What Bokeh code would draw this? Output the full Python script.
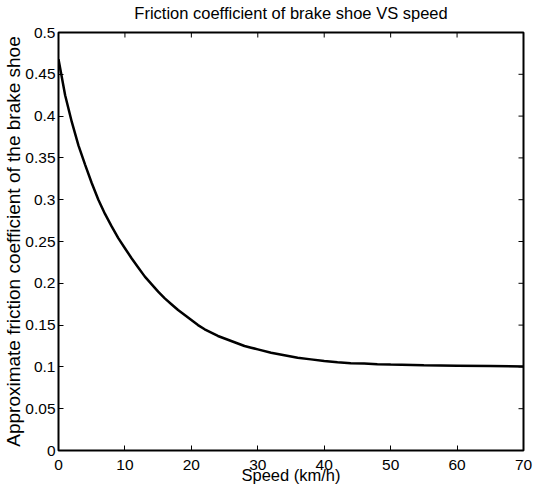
from bokeh.plotting import figure
from bokeh.models import Range1d, LinearAxis, FixedTicker, CustomJSTickFormatter
from bokeh.embed import file_html
from bokeh.resources import INLINE
import math

# Data
speed = [0, 1, 2, 3, 4, 5, 6, 7, 8, 9, 10, 11, 12, 13, 14, 15, 16, 17, 18, 19, 20,
         21, 22, 23, 24, 25, 26, 27, 28, 29, 30, 32, 34, 36, 38, 40, 42, 44, 46, 48,
         50, 55, 60, 65, 70]
friction = [0.468, 0.425, 0.393, 0.365, 0.342, 0.320, 0.300, 0.283, 0.268, 0.254, 0.242,
            0.230, 0.219, 0.208, 0.199, 0.190, 0.182, 0.175, 0.168, 0.162, 0.156,
            0.150, 0.145, 0.141, 0.137, 0.134, 0.131, 0.128, 0.125, 0.123, 0.121,
            0.117, 0.114, 0.111, 0.109, 0.107, 0.1055, 0.1045, 0.104, 0.1033,
            0.1028, 0.102, 0.1015, 0.101, 0.1005]
x_ticks = [0, 10, 20, 30, 40, 50, 60, 70]
y_ticks = [0, 0.05, 0.1, 0.15, 0.2, 0.25, 0.3, 0.35, 0.4, 0.45, 0.5]

title_text = "Friction coefficient of brake shoe VS speed"
x_label = "Speed (km/h)"
y_label = "Approximate friction coefficient of the brake shoe"

FONT = "Liberation Sans"

p = figure(width=533, height=488, output_backend="svg", toolbar_location=None,
           x_range=Range1d(0, 70), y_range=Range1d(0, 0.5),
           min_border_left=57, min_border_right=10, min_border_top=32, min_border_bottom=38,
           x_axis_location=None, y_axis_location=None)
p.xgrid.visible = False
p.ygrid.visible = False
p.outline_line_color = "black"
p.outline_line_width = 2
p.background_fill_color = "white"
p.border_fill_color = "white"

fmt = CustomJSTickFormatter(code="return (Math.round(tick*100)/100).toString();")


def make_axis(ticks, standoff, label, label_standoff, label_size):
    ax = LinearAxis(ticker=FixedTicker(ticks=ticks), formatter=fmt)
    ax.axis_line_color = None
    ax.major_tick_in = 5
    ax.major_tick_out = 0
    ax.major_tick_line_color = "black"
    ax.major_tick_line_width = 1
    ax.minor_tick_line_color = None
    ax.major_label_standoff = standoff
    ax.major_label_text_font = FONT
    ax.major_label_text_font_size = "15.5px"
    ax.major_label_text_color = "black"
    ax.axis_label = label
    ax.axis_label_standoff = label_standoff
    ax.axis_label_text_font = FONT
    ax.axis_label_text_font_size = label_size
    ax.axis_label_text_font_style = "normal"
    ax.axis_label_text_color = "black"
    return ax


p.add_layout(make_axis(x_ticks, 9, x_label, -7, "16.5px"), "below")
p.add_layout(make_axis(y_ticks, 3, y_label, -2, "19px"), "left")
# title drawn as the label of a tick-less top axis
p.add_layout(make_axis([], 0, title_text, 11, "16.5px"), "above")

# inward tick marks on the top and right edges of the box
p.ray(x=x_ticks, y=[y_ticks[-1]] * len(x_ticks), length=5, length_units="screen",
      angle=-math.pi / 2, line_color="black", line_width=1)
p.ray(x=[x_ticks[-1]] * len(y_ticks), y=y_ticks, length=5, length_units="screen",
      angle=math.pi, line_color="black", line_width=1)

p.line(speed, friction, line_color="black", line_width=2.5)

open("out.html", "w").write(file_html(p, INLINE))
